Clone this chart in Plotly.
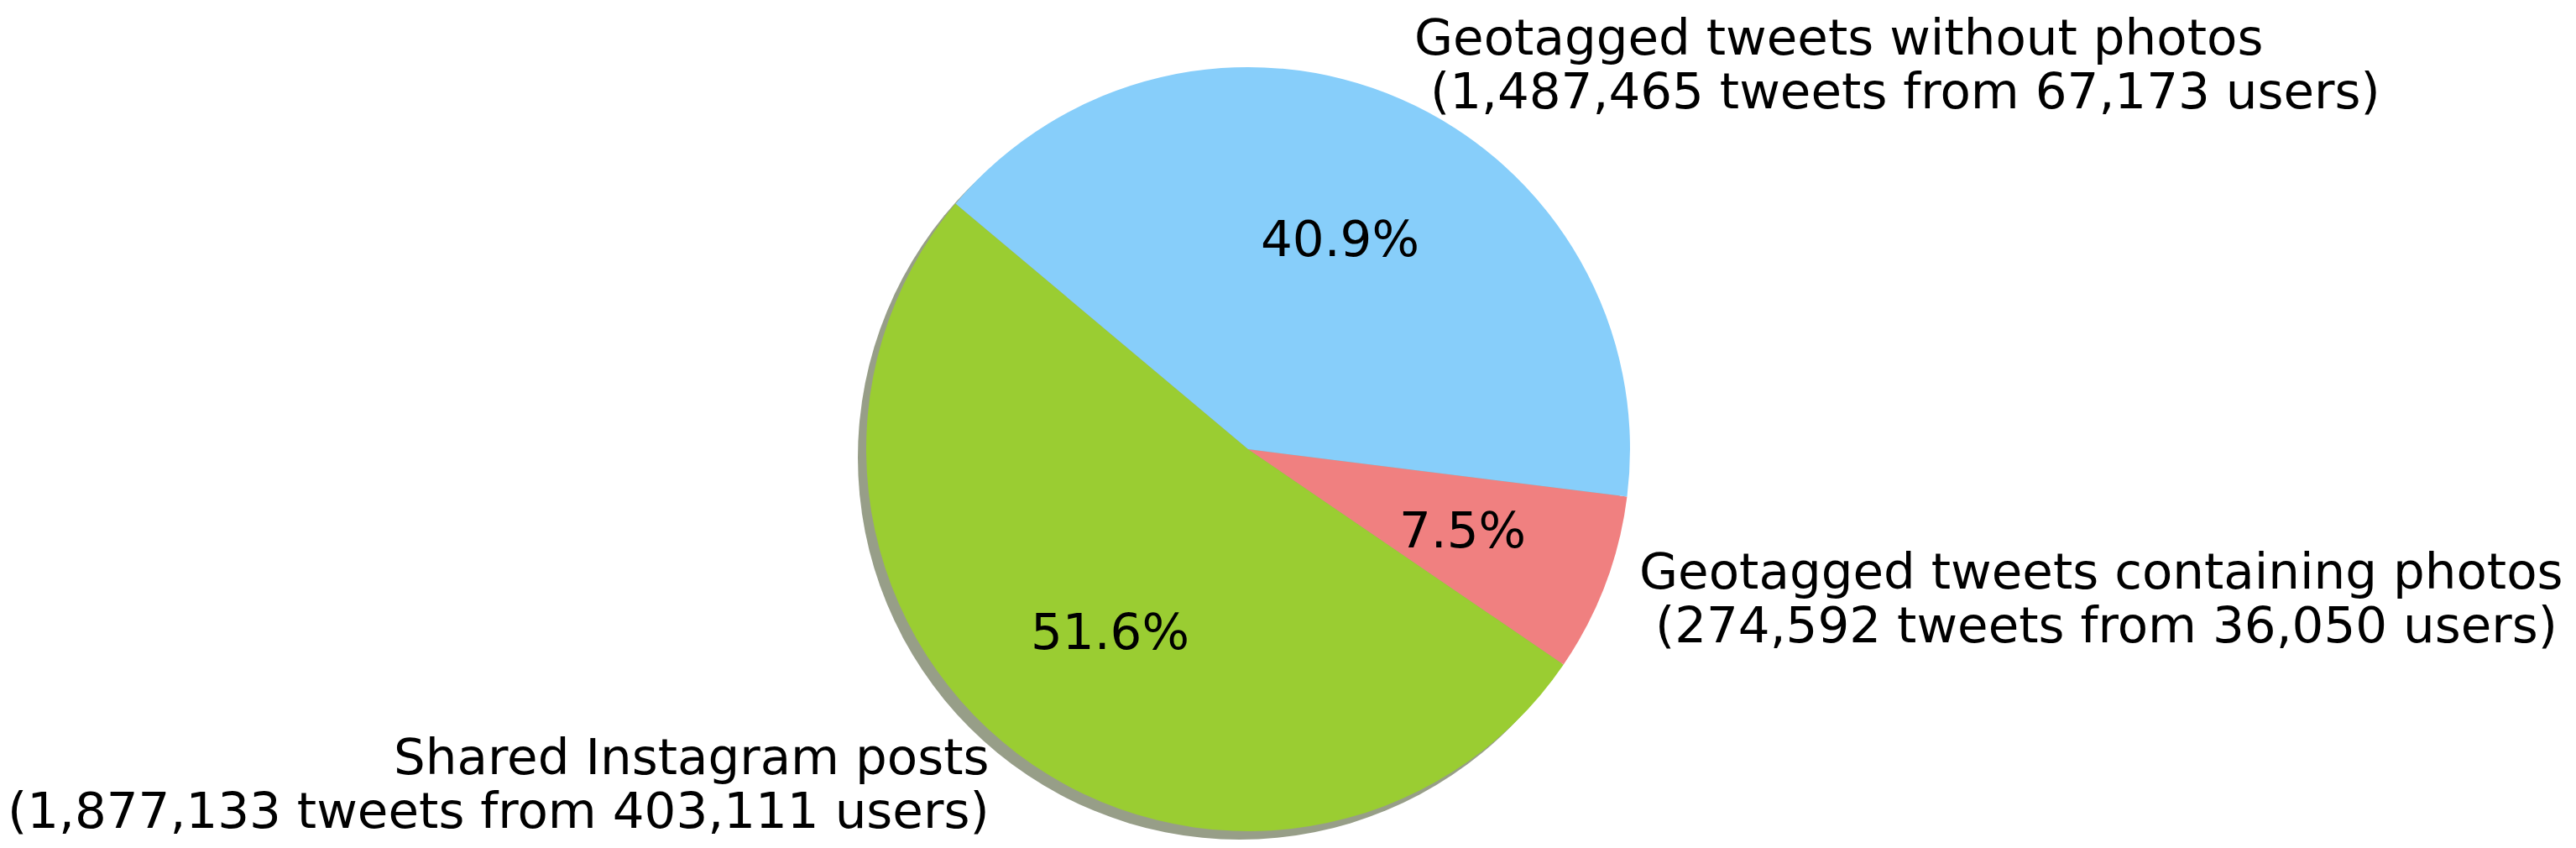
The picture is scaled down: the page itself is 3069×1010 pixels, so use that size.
import numpy as np
import plotly.graph_objects as go

# data, in matplotlib's drawing order (counterclockwise from 140 deg)
categories = ['Shared Instagram posts',
              'Geotagged tweets containing photos',
              'Geotagged tweets without photos']
tweets = [1877133, 274592, 1487465]
users = [403111, 36050, 67173]
colors = ['#9ACD32', '#F08080', '#87CEFA']

# the page body has an 8px margin: size the figure so it fits the window,
# and give positions in figure pixels (window pixels minus 8)
W, H = 3069 - 16, 1010 - 16
cx, cy, r = 1479, 527, 455      # pie centre / radius
shadow_off = 10
start_angle = 140
font_size = 59.5
line_gap = 32

def dom(x0, y0, rad):
    return dict(x=[(x0 - rad) / W, (x0 + rad) / W],
                y=[1 - (y0 + rad) / H, 1 - (y0 - rad) / H])

total = sum(tweets)
frac = np.array(tweets) / total

fig = go.Figure()

# matplotlib-style drop shadow
fig.add_trace(go.Pie(
    values=[total], marker=dict(colors=['#979e88']),
    domain=dom(cx - shadow_off, cy + shadow_off, r),
    textinfo='none', hoverinfo='skip', sort=False, showlegend=False
))

# plotly ccw: first slice spans [rotation, rotation + size] clockwise from 12 o'clock
rot = (90 - start_angle - 360 * frac[0]) % 360
fig.add_trace(go.Pie(
    labels=categories, values=tweets,
    marker=dict(colors=colors),
    domain=dom(cx, cy, r),
    sort=False, direction='counterclockwise', rotation=rot,
    textinfo='none', showlegend=False
))

# labels placed like matplotlib: pct at 0.6 r, names at 1.1 r
ends = start_angle + 360 * np.cumsum(frac)
mids = np.radians(ends - 360 * frac / 2)

annotations = []
for name, t, u, f, a in zip(categories, tweets, users, frac, mids):
    px = cx + 0.6 * r * np.cos(a)
    py = cy - 0.6 * r * np.sin(a)
    annotations.append(dict(
        x=px / W, y=1 - py / H, xref='paper', yref='paper',
        text=f'{f * 100:.1f}%', showarrow=False,
        xanchor='center', yanchor='middle',
        font=dict(size=font_size, color='black')
    ))
    lx = cx + 1.1 * r * np.cos(a) - 4
    ly = cy - 1.1 * r * np.sin(a)
    side = 'left' if np.cos(a) > 0 else 'right'
    lines = [name, f'\u00a0({t:,} tweets from {u:,} users)']
    for line, dy in zip(lines, [-line_gap, line_gap]):
        annotations.append(dict(
            x=lx / W, y=1 - (ly + dy) / H, xref='paper', yref='paper',
            text=line, showarrow=False,
            xanchor=side, yanchor='middle', align=side,
            font=dict(size=font_size, color='black')
        ))

fig.update_layout(
    width=W, height=H,
    margin=dict(l=0, r=0, t=0, b=0),
    paper_bgcolor='white', plot_bgcolor='white',
    font=dict(family='DejaVu Sans', color='black'),
    annotations=annotations
)

fig.write_html('out.html')
